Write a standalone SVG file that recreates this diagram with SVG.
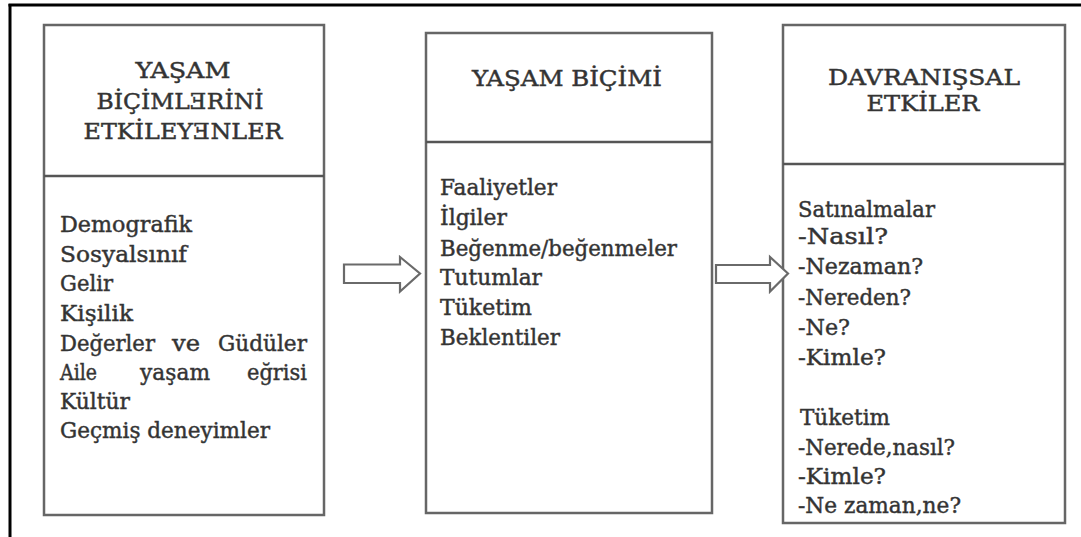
<svg xmlns="http://www.w3.org/2000/svg" width="1081" height="537" viewBox="0 0 1081 537">
  <style>
    .box { fill: #ffffff; stroke: #666666; stroke-width: 2.5; }
    .div { stroke: #555555; stroke-width: 2.5; }
    .arrow { fill: #ffffff; stroke: #6a6a6a; stroke-width: 2.2; stroke-linejoin: miter; }
    text { font-family: "DejaVu Serif", "Liberation Serif", serif; font-size: 22px; fill: #333333; stroke: #3a3a3a; stroke-width: 0.45; }
    .hd { text-anchor: middle; }
  </style>
  <rect x="0" y="0" width="1081" height="537" fill="#ffffff"/>
  <g id="frame">
    <line x1="8.5" y1="5" x2="1081" y2="5" stroke="#000000" stroke-width="3"/>
    <line x1="10" y1="4" x2="10" y2="537" stroke="#000000" stroke-width="3"/>
  </g>
  <g id="node-influencers">
    <rect class="box" x="44" y="25" width="280" height="490"/>
    <line class="div" x1="44" y1="176" x2="324" y2="176"/>
    <text class="hd" x="183" y="78" textLength="95" lengthAdjust="spacingAndGlyphs">YAŞAM</text>
    <text class="hd" x="180" y="109" textLength="167" lengthAdjust="spacingAndGlyphs">BİÇİMLƎRİNİ</text>
    <text class="hd" x="183" y="139" textLength="199" lengthAdjust="spacingAndGlyphs">ETKİLEYƎNLER</text>
    <text x="60" y="232" textLength="132" lengthAdjust="spacingAndGlyphs">Demografik</text>
    <text x="60" y="262" textLength="127" lengthAdjust="spacingAndGlyphs">Sosyalsınıf</text>
    <text x="60" y="291" textLength="53" lengthAdjust="spacingAndGlyphs">Gelir</text>
    <text x="60" y="321" textLength="73" lengthAdjust="spacingAndGlyphs">Kişilik</text>
    <text x="60" y="351" textLength="95" lengthAdjust="spacingAndGlyphs">Değerler</text>
    <text x="172" y="351" textLength="28" lengthAdjust="spacingAndGlyphs">ve</text>
    <text x="218" y="351" textLength="89" lengthAdjust="spacingAndGlyphs">Güdüler</text>
    <text x="60" y="380" textLength="37" lengthAdjust="spacingAndGlyphs">Aile</text>
    <text x="140" y="380" textLength="70" lengthAdjust="spacingAndGlyphs">yaşam</text>
    <text x="247" y="380" textLength="60" lengthAdjust="spacingAndGlyphs">eğrisi</text>
    <text x="60" y="409" textLength="70" lengthAdjust="spacingAndGlyphs">Kültür</text>
    <text x="60" y="438" textLength="210" lengthAdjust="spacingAndGlyphs">Geçmiş deneyimler</text>
  </g>
  <g id="node-lifestyle">
    <rect class="box" x="426" y="33" width="286" height="480"/>
    <line class="div" x1="426" y1="142" x2="712" y2="142"/>
    <text class="hd" x="567" y="86" textLength="190" lengthAdjust="spacingAndGlyphs">YAŞAM BİÇİMİ</text>
    <text x="440" y="195" textLength="117" lengthAdjust="spacingAndGlyphs">Faaliyetler</text>
    <text x="440" y="225" textLength="67" lengthAdjust="spacingAndGlyphs">İlgiler</text>
    <text x="440" y="256" textLength="237" lengthAdjust="spacingAndGlyphs">Beğenme/beğenmeler</text>
    <text x="440" y="285" textLength="102" lengthAdjust="spacingAndGlyphs">Tutumlar</text>
    <text x="440" y="315" textLength="92" lengthAdjust="spacingAndGlyphs">Tüketim</text>
    <text x="440" y="345" textLength="120" lengthAdjust="spacingAndGlyphs">Beklentiler</text>
  </g>
  <g id="node-behavioral">
    <rect class="box" x="783" y="25" width="282" height="498"/>
    <line class="div" x1="783" y1="164" x2="1065" y2="164"/>
    <text class="hd" x="924" y="85" textLength="192" lengthAdjust="spacingAndGlyphs">DAVRANIŞSAL</text>
    <text class="hd" x="923" y="111" textLength="113" lengthAdjust="spacingAndGlyphs">ETKİLER</text>
    <text x="798" y="217" textLength="137" lengthAdjust="spacingAndGlyphs">Satınalmalar</text>
    <text x="798" y="244" textLength="90" lengthAdjust="spacingAndGlyphs">-Nasıl?</text>
    <text x="798" y="274" textLength="125" lengthAdjust="spacingAndGlyphs">-Nezaman?</text>
    <text x="798" y="305" textLength="113" lengthAdjust="spacingAndGlyphs">-Nereden?</text>
    <text x="798" y="335" textLength="52" lengthAdjust="spacingAndGlyphs">-Ne?</text>
    <text x="798" y="365" textLength="88" lengthAdjust="spacingAndGlyphs">-Kimle?</text>
    <text x="800" y="425" textLength="90" lengthAdjust="spacingAndGlyphs">Tüketim</text>
    <text x="798" y="455" textLength="157" lengthAdjust="spacingAndGlyphs">-Nerede,nasıl?</text>
    <text x="798" y="484" textLength="88" lengthAdjust="spacingAndGlyphs">-Kimle?</text>
    <text x="798" y="513" textLength="163" lengthAdjust="spacingAndGlyphs">-Ne zaman,ne?</text>
  </g>
  <g id="connectors">
    <polygon class="arrow" points="344,264.5 400,264.5 400,257 420,273.5 400,291.5 400,283 344,283"/>
    <polygon class="arrow" points="716,265 770,265 770,257 788,273.5 770,291.5 770,283 716,283"/>
  </g>
</svg>
